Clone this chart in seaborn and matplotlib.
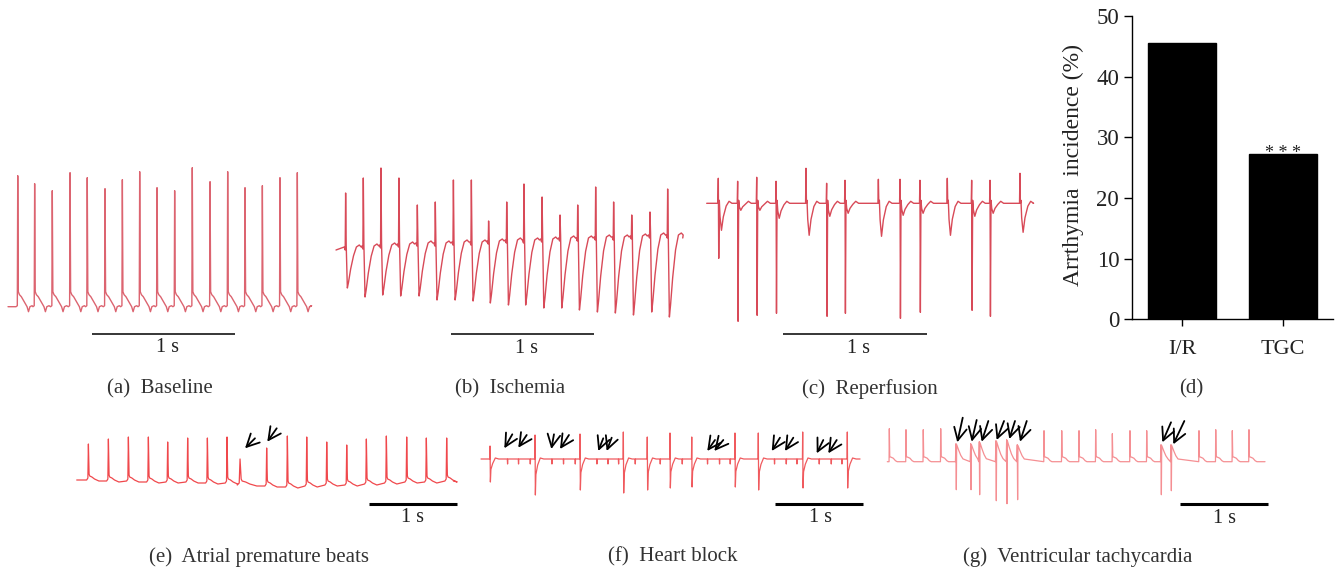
import numpy as np
import pandas as pd
import matplotlib
matplotlib.use("Agg")
import matplotlib.pyplot as plt
import seaborn as sns

W, H = 1338, 571
sns.set_theme(style="white")
plt.rcParams['font.family'] = ['Liberation Serif', 'DejaVu Serif']

# ---------------- data ----------------
# (d) bar chart
bar_groups = ["I/R", "TGC"]
bar_values = [45.5, 27.3]
bar_sig = ["", "* * *"]
y_ticks = [0, 10, 20, 30, 40, 50]

# (a) Baseline: beat times (s) and R amplitudes (mV)
a_t = [0.068, 0.186, 0.309, 0.433, 0.553, 0.677, 0.798, 0.919, 1.040, 1.163,
       1.286, 1.410, 1.533, 1.654, 1.775, 1.898, 2.019]
a_R = [1.31, 1.23, 1.16, 1.34, 1.29, 1.18, 1.27, 1.35, 1.19, 1.16,
       1.39, 1.25, 1.35, 1.19, 1.21, 1.29, 1.34]
a_end = 2.107

# (b) Ischemia
b_t = [0.067, 0.190, 0.313, 0.438, 0.566, 0.691, 0.817, 0.942, 1.062, 1.188,
       1.308, 1.434, 1.559, 1.682, 1.807, 1.932, 2.058, 2.185, 2.308]
b_R = [0.57, 0.72, 0.82, 0.72, 0.45, 0.48, 0.70, 0.70, 0.29, 0.48,
       0.66, 0.53, 0.35, 0.45, 0.63, 0.48, 0.35, 0.38, 0.61]
b_S = [-0.38, -0.47, -0.45, -0.46, -0.46, -0.50, -0.50, -0.51, -0.53, -0.55,
       -0.55, -0.58, -0.58, -0.60, -0.62, -0.63, -0.65, -0.62, -0.67]
b_B = [0.00, 0.01, 0.02, 0.03, 0.04, 0.04, 0.05, 0.05, 0.06, 0.07,
       0.07, 0.08, 0.09, 0.09, 0.10, 0.10, 0.11, 0.12, 0.12]
b_end = 2.413

# (c) Reperfusion
c_t = [0.081, 0.216, 0.349, 0.484, 0.693, 0.837, 0.965, 1.198, 1.349, 1.488,
       1.679, 1.849, 1.977, 2.186]
c_R = [0.25, 0.22, 0.26, 0.22, 0.35, 0.20, 0.23, 0.24, 0.24, 0.23,
       0.25, 0.23, 0.23, 0.30]
c_S = [-0.55, -1.18, -1.12, -1.10, 0.00, -1.13, -1.10, 0.00, -1.15, -1.09,
       0.00, -1.07, -1.13, 0.00]
c_T = [-0.27, -0.07, -0.07, -0.15, -0.32, -0.13, -0.10, -0.33, -0.12, -0.10,
       -0.32, -0.13, -0.10, -0.29]
c_end = 2.279

# (e) Atrial premature beats
e_t = [0.134, 0.363, 0.592, 0.821, 1.042, 1.271, 1.497, 1.722, 1.871, 2.176,
       2.413, 2.635, 2.864, 3.093, 3.318, 3.547, 3.780, 4.005, 4.238]
e_R = [0.36, 0.41, 0.43, 0.43, 0.38, 0.42, 0.42, 0.43, 0.21, 0.32,
       0.44, 0.43, 0.38, 0.35, 0.41, 0.44, 0.43, 0.42, 0.42]
e_B = [0.00, -0.01, -0.01, -0.02, -0.02, -0.02, -0.03, -0.03, -0.05, -0.06,
       -0.07, -0.06, -0.05, -0.05, -0.04, -0.03, -0.02, -0.02, -0.01]
e_W = [1, 1, 1, 1, 1, 1, 1, 1, 1.6, 1, 1, 1, 1, 1, 1, 1, 1, 1, 1]
e_end = 4.315
e_arrows = [((1.928, 0.317), (2.042, 0.417)), ((2.183, 0.383), (2.291, 0.517))]

# (f) Heart block: conducted QRS and blocked P waves
f_qrs_t = [0.103, 0.616, 1.129, 1.623, 1.896, 2.155, 2.403, 2.896, 3.162, 3.668, 4.177]
f_qrs_R = [0.15, 0.26, 0.27, 0.29, 0.24, 0.28, 0.24, 0.28, 0.28, 0.29, 0.29]
f_qrs_S = [-0.21, -0.34, -0.29, -0.32, -0.29, -0.27, -0.26, -0.26, -0.29, -0.27, -0.27]
f_p_t = [0.300, 0.425, 0.559, 0.806, 0.938, 1.072, 1.319, 1.445, 1.566, 1.756,
         2.041, 2.292, 2.580, 2.717, 2.839, 3.344, 3.478, 3.600, 3.854, 3.991, 4.113]
f_end = 4.322
f_arrows = [((0.266, 0.127), (0.357, 0.267)), ((0.425, 0.133), (0.521, 0.260)),
            ((0.802, 0.120), (0.832, 0.267)), ((0.901, 0.120), (1.003, 0.260)),
            ((1.337, 0.100), (1.394, 0.227)), ((1.433, 0.100), (1.490, 0.233)),
            ((2.580, 0.100), (2.668, 0.210)), ((2.660, 0.100), (2.763, 0.210)),
            ((3.315, 0.100), (3.409, 0.233)), ((3.466, 0.100), (3.561, 0.233)),
            ((3.828, 0.077), (3.903, 0.210)), ((3.960, 0.077), (4.056, 0.210))]

# (g) Ventricular tachycardia: normal beats and ventricular beats
g_n_t = [0.023, 0.213, 0.410, 0.609, 1.787, 1.989, 2.186, 2.376, 2.566, 2.767,
         2.958, 3.554, 3.745, 3.934, 4.124]
g_n_R = [0.33, 0.32, 0.32, 0.33, 0.31, 0.31, 0.31, 0.32, 0.28, 0.31,
         0.31, 0.31, 0.32, 0.31, 0.32]
g_v_t = [0.783, 0.951, 1.049, 1.239, 1.361, 1.482, 3.121, 3.235]
g_v_R = [0.18, 0.18, 0.20, 0.21, 0.22, 0.17, 0.17, 0.17]
g_v_S = [-0.28, -0.28, -0.33, -0.39, -0.42, -0.38, -0.33, -0.29]
g_end = 4.307
g_arrows = [((0.798, 0.194), (0.860, 0.440)), ((0.962, 0.200), (1.019, 0.417)),
            ((1.076, 0.200), (1.152, 0.407)), ((1.247, 0.217), (1.331, 0.407)),
            ((1.391, 0.227), (1.456, 0.407)), ((1.513, 0.200), (1.590, 0.407)),
            ((3.136, 0.194), (3.235, 0.394)), ((3.261, 0.174), (3.387, 0.407))]

# beat shape templates: time offset from R (s) and weights of the beat components
TMPL_A = dict(dt=[-0.012, -0.003, 0.0, 0.004, 0.012, 0.025, 0.045, 0.065, 0.075, 0.085, 0.100],
              c=[0.0, 0.01, 0.0, 0.15, 0.12, 0.10, 0.05, 0.0, -0.05, 0.0, 0.01],
              R=[0, 0, 1, 0, 0, 0, 0, 0, 0, 0, 0])
TMPL_B = dict(dt=[-0.010, -0.003, 0.0, 0.004, 0.012, 0.020, 0.035, 0.055, 0.075, 0.095, 0.108],
              c=[0.03, 0.0, 0.0, 0.05, 0.0, 0.0, 0.0, 0.0, 0.03, 0.05, 0.03],
              B=[1, 1, 0, 1, 0, 0.15, 0.5, 0.85, 1, 1, 1],
              R=[0, 0, 1, 0, 0, 0, 0, 0, 0, 0, 0],
              S=[0, 0, 0, 0, 1, 0.85, 0.5, 0.15, 0, 0, 0])
TMPL_C = dict(dt=[-0.010, -0.003, 0.0, 0.003, 0.007, 0.012, 0.022, 0.035, 0.055, 0.075, 0.095],
              c=[0, 0, 0, 0, 0.03, 0, 0, 0, 0, 0.02, 0],
              R=[0, 0, 1, 0, 0, 0, 0, 0, 0, 0, 0],
              S=[0, 0, 0, 1, 0, 0, 0, 0, 0, 0, 0],
              T=[0, 0, 0, 0, 0, 0.5, 1, 0.5, 0.1, 0, 0])
TMPL_E = dict(dt=[-0.020, -0.006, 0.0, 0.008, 0.015, 0.040, 0.070, 0.095, 0.120],
              c=[0, 0.02, 0, 0.06, 0.04, 0.03, 0.01, 0, -0.01],
              B=[1, 1, 0, 1, 1, 1, 1, 1, 1],
              R=[0, 0, 1, 0, 0, 0, 0, 0, 0])
TMPL_F_QRS = dict(dt=[-0.010, -0.003, 0.0, 0.004, 0.010, 0.030, 0.060, 0.100],
                  c=[0.02, 0.02, 0, 0, 0, 0, 0.03, 0.02],
                  R=[0, 0, 1, 0, 0, 0, 0, 0],
                  S=[0, 0, 0, 1, 0.4, 0.12, 0, 0])
TMPL_F_P = dict(dt=[-0.003, 0.0, 0.003, 0.006],
                c=[0.02, 0.02, -0.03, 0.02])
TMPL_G_N = dict(dt=[-0.010, -0.003, 0.0, 0.005, 0.020, 0.045, 0.070, 0.090],
                c=[0, 0, 0, 0.05, 0.045, 0.035, 0.01, 0],
                R=[0, 0, 1, 0, 0, 0, 0, 0])
TMPL_G_V = dict(dt=[-0.006, 0.0, 0.004, 0.008, 0.030, 0.055, 0.080],
                c=[0, 0, 0, 0, 0, 0, 0.01],
                R=[0, 1, 0, 0.95, 0.65, 0.35, 0.1],
                S=[0, 0, 1, 0, 0, 0, 0])


def events(tmpl, times, **comps):
    out = []
    for i, t in enumerate(times):
        out.append((t, tmpl, {k: v[i] for k, v in comps.items()}))
    return out


def build(evts, t_end, v0=0.0, v1=0.0):
    ts, vs = [0.0], [v0]
    for t, tmpl, comp in sorted(evts, key=lambda e: e[0]):
        w = comp.get('W', 1.0)
        dt = np.asarray(tmpl['dt'], float) * w
        v = np.asarray(tmpl['c'], float).copy()
        for k in ('B', 'R', 'S', 'T'):
            if k in tmpl:
                v += np.asarray(tmpl[k], float) * comp.get(k, 0.0)
        ts.extend(t + dt)
        vs.extend(v)
    ts.append(t_end)
    vs.append(v1)
    return pd.DataFrame({'t': ts, 'v': vs})


# ---------------- figure ----------------
fig = plt.figure(figsize=(W / 100, H / 100), dpi=100)


def ecg_axes(box, x_s, pps, y_b, mv_px=100.0):
    L, T, R, B = box
    ax = fig.add_axes([L / W, 1 - B / H, (R - L) / W, (B - T) / H])
    ax.set_xlim((L - x_s) / pps, (R - x_s) / pps)
    ax.set_ylim((y_b - B) / mv_px, (y_b - T) / mv_px)
    ax.axis('off')
    return ax


def draw_trace(ax, df, color, lw):
    sns.lineplot(data=df, x='t', y='v', ax=ax, sort=False, estimator=None,
                 color=color, linewidth=lw, legend=False)
    ax.set_xlabel('')
    ax.set_ylabel('')


def scale_bar(ax, t0, v, lab_t, lab_v, lw, fs):
    ax.plot([t0, t0 + 1.0], [v, v], color='black', lw=lw, solid_capstyle='butt')
    ax.text(lab_t, lab_v, "1 s", ha='center', va='center', fontsize=fs, color='#222222')


def arrows(ax, arr):
    for tip, tail in arr:
        ax.annotate('', xy=tip, xytext=tail,
                    arrowprops=dict(arrowstyle='->,head_length=0.75,head_width=0.38',
                                    color='black', lw=1.3, shrinkA=0, shrinkB=0))


def fig_text(x, y, s, **kw):
    fig.text(x / W, 1 - y / H, s, ha='center', va='center', **kw)


top_col = '#d84a58'

# (a)
ax = ecg_axes((0, 160, 330, 360), 8, 143.3, 306.7)
draw_trace(ax, build(events(TMPL_A, a_t, R=a_R), a_end), '#dc6470', 1.0)
scale_bar(ax, 0.584, -0.276, 1.116, -0.413, 1.1, 14.5)

# (b)
ax = ecg_axes((330, 160, 690, 360), 336, 143.7, 250)
draw_trace(ax, build(events(TMPL_B, b_t, R=b_R, S=b_S, B=b_B), b_end, b_B[0], b_B[-1]),
           top_col, 1.0)
scale_bar(ax, 0.798, -0.843, 1.327, -0.983, 1.1, 14.5)

# (c)
ax = ecg_axes((690, 160, 1050, 360), 706.7, 143.3, 203.3)
draw_trace(ax, build(events(TMPL_C, c_t, R=c_R, S=c_S, T=c_T), c_end), top_col, 1.0)
scale_bar(ax, 0.535, -1.31, 1.058, -1.45, 1.1, 14.5)

# (e)
ax = ecg_axes((60, 410, 470, 530), 76.7, 87.3, 480)
draw_trace(ax, build(events(TMPL_E, e_t, R=e_R, B=e_B, W=e_W), e_end, e_B[0], e_B[-1]),
           '#f0484c', 0.9)
scale_bar(ax, 3.352, -0.237, 3.852, -0.38, 2.2, 14.5)
arrows(ax, e_arrows)

# (f)
ax = ecg_axes((470, 410, 880, 530), 481, 87.7, 461)
f_ev = events(TMPL_F_QRS, f_qrs_t, R=f_qrs_R, S=f_qrs_S) + events(TMPL_F_P, f_p_t)
draw_trace(ax, build(f_ev, f_end, 0.02, 0.02), '#f05a5e', 0.9)
scale_bar(ax, 3.352, -0.43, 3.866, -0.57, 2.2, 14.5)
arrows(ax, f_arrows)

# (g)
ax = ecg_axes((880, 400, 1290, 530), 887.3, 87.7, 461.7)
g_ev = events(TMPL_G_N, g_n_t, R=g_n_R) + events(TMPL_G_V, g_v_t, R=g_v_R, S=g_v_S)
draw_trace(ax, build(g_ev, g_end), '#f58f93', 0.9)
scale_bar(ax, 3.337, -0.42, 3.85, -0.566, 2.2, 14.5)
arrows(ax, g_arrows)

# (d) bar chart
L, T, R, B = 1131.7, 16, 1333.3, 319.3
axd = fig.add_axes([L / W, 1 - B / H, (R - L) / W, (B - T) / H])
bar_df = pd.DataFrame({'group': bar_groups, 'value': bar_values})
sns.barplot(data=bar_df, x='group', y='value', ax=axd, color='black',
            saturation=1, width=0.67, edgecolor='black')
axd.set_xlim(-0.5, 1.5)
axd.set_ylim(0, 50)
axd.set_yticks(y_ticks)
axd.set_xlabel('')
axd.set_ylabel('Arrthymia  incidence (%)', fontsize=17, color='#222222')
axd.yaxis.set_label_coords(-0.235, 0.51)
for s in ('top', 'right'):
    axd.spines[s].set_visible(False)
for s in ('left', 'bottom'):
    axd.spines[s].set_color('black')
    axd.spines[s].set_linewidth(1.0)
axd.tick_params(axis='y', direction='out', length=6, width=1, colors='black',
                labelsize=16.5, pad=3, left=True, labelcolor='#222222')
axd.tick_params(axis='x', direction='out', length=5, width=1, colors='black',
                labelsize=16, pad=10, bottom=True, labelcolor='#222222')
for i, (val, sig) in enumerate(zip(bar_values, bar_sig)):
    if sig:
        axd.text(i, val - 0.7, sig, ha='center', va='baseline', fontsize=13,
                 color='#222222')

# captions
fig_text(160, 389, "(a)  Baseline", fontsize=15, color='#333333')
fig_text(510, 389, "(b)  Ischemia", fontsize=15, color='#333333')
fig_text(870, 389, "(c)  Reperfusion", fontsize=15, color='#333333')
fig_text(1191, 389, "(d)", fontsize=15, color='#333333')
fig_text(259, 557, "(e)  Atrial premature beats", fontsize=15, color='#333333')
fig_text(672.5, 557, "(f)  Heart block", fontsize=15, color='#333333')
fig_text(1077.5, 557, "(g)  Ventricular tachycardia", fontsize=15, color='#333333')

fig.savefig('out.png', dpi=100, facecolor='white')
